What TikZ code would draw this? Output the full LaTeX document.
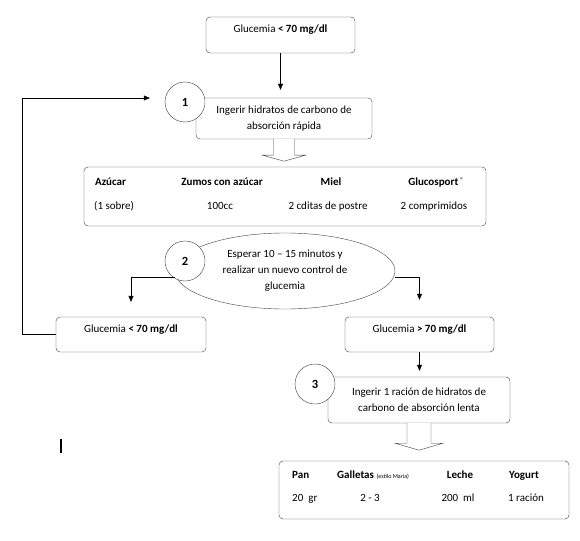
\documentclass[tikz,border=0pt]{standalone}
\usepackage{fontspec}
\setmainfont{Carlito}
\usetikzlibrary{arrows.meta,shapes.geometric}

\begin{document}
\fontsize{11}{16}\selectfont
\begin{tikzpicture}[x=1pt,y=-1pt,
  box/.style={draw=black!75,rounded corners=4pt,align=center,inner sep=0pt},
  num/.style={draw=black!75,fill=white,circle,minimum size=40pt,inner sep=0pt,font=\bfseries\fontsize{12.5}{14}\selectfont},
  cell/.style={inner sep=0pt,text height=7.5pt,text depth=2.5pt},
  item/.style={cell,font=\bfseries},
  arr/.style={-{Triangle[length=6pt,width=5pt]},black}]
\useasboundingbox (0,0) rectangle (580,540);
\node [box,minimum width=149pt,text height=15.5pt,text depth=20.5pt] (g0) at (280.5,35) {Glucemia \textbf{< 70 mg/dl}};
\node [box,minimum width=176pt,minimum height=41pt] (b1) at (284,118.5) {Ingerir hidratos de carbono de\\absorción rápida};
\node [num] (c1) at (185,102) {1};
\draw [arr,shorten >=8pt] (g0.south) -- (g0.south |- b1.north);
\draw [black!75,fill=white] (b1.south) ++(-10.5,0) -- ++(0,16) -- ++(-11,0) -- ++(21.5,6) -- ++(21.5,-6) -- ++(-11,0) -- ++(0,-16);
% rapid carbohydrates
\node [box,minimum width=402pt,minimum height=59pt] (f1) at (285,196.5) {};
\node [item,anchor=west] (azucar) at (95,183) {Azúcar};
\node [item] (zumos) at (222,183) {Zumos con azúcar};
\node [item] (miel) at (331,183) {Miel};
\node [item] (gluco) at (436,183) {Glucosport\,\raisebox{3pt}{\mdseries\fontsize{7}{8}\selectfont ®}};
\node [cell,anchor=west] (sobre) at (94,207) {(1 sobre)};
\node [cell] (cc) at (220,207) {100cc};
\node [cell] (cditas) at (328,207) {2 cditas de postre};
\node [cell] (compr) at (434,207) {2 comprimidos};
\node [draw=black!75,ellipse,minimum width=220pt,minimum height=76pt,align=center,inner sep=0pt] (e2) at (285,271) {Esperar 10 – 15 minutos y\\realizar un nuevo control de\\glucemia};
\node [num] (c2) at (185,261) {2};
\node [box,minimum width=150pt,text height=15.5pt,text depth=19.5pt] (lo) at (131,334.5) {Glucemia \textbf{< 70 mg/dl}};
\node [box,minimum width=149pt,text height=15.5pt,text depth=19.5pt] (hi) at (419.5,334.5) {Glucemia \textbf{> 70 mg/dl}};
\draw [arr,shorten >=15pt] ([yshift=-6pt]e2.west) -| (lo.north);
\draw [arr,shorten >=17pt] ([yshift=-6pt]e2.east) -| (hi.north);
\draw [arr] (lo.west) -- ++(-34,0) |- ([xshift=-15pt,yshift=4pt]c1.west);
\node [box,minimum width=182pt,minimum height=46pt] (b3) at (419,400) {Ingerir 1 ración de hidratos de\\carbono de absorción lenta};
\node [num] (c3) at (315,384) {3};
\draw [arr,shorten >=6pt] (hi.south) -- (hi.south |- b3.north);
\draw [black!75,fill=white] (b3.south) ++(-12,0) -- ++(0,20) -- ++(-12,0) -- ++(24,7) -- ++(24,-7) -- ++(-12,0) -- ++(0,-20);
% slow carbohydrates
\node [box,minimum width=290pt,minimum height=58pt] (f3) at (424,490) {};
\node [item,anchor=west] (pan) at (292,476) {Pan};
\node [item,anchor=west] (galletas) at (337,476) {Galletas {\mdseries\fontsize{6}{7}\selectfont(estilo Maria)}};
\node [item] (leche) at (460,476) {Leche};
\node [item] (yogurt) at (524,476) {Yogurt};
\node [cell,anchor=west] (gr) at (292,499) {20\ \ gr};
\node [cell] (dos) at (370,499) {2 - 3};
\node [cell] (ml) at (458,499) {200\ \ ml};
\node [cell] (racion) at (526,499) {1 ración};
\draw [line width=1.5pt] (61,439) -- (61,453);
\end{tikzpicture}
\end{document}
